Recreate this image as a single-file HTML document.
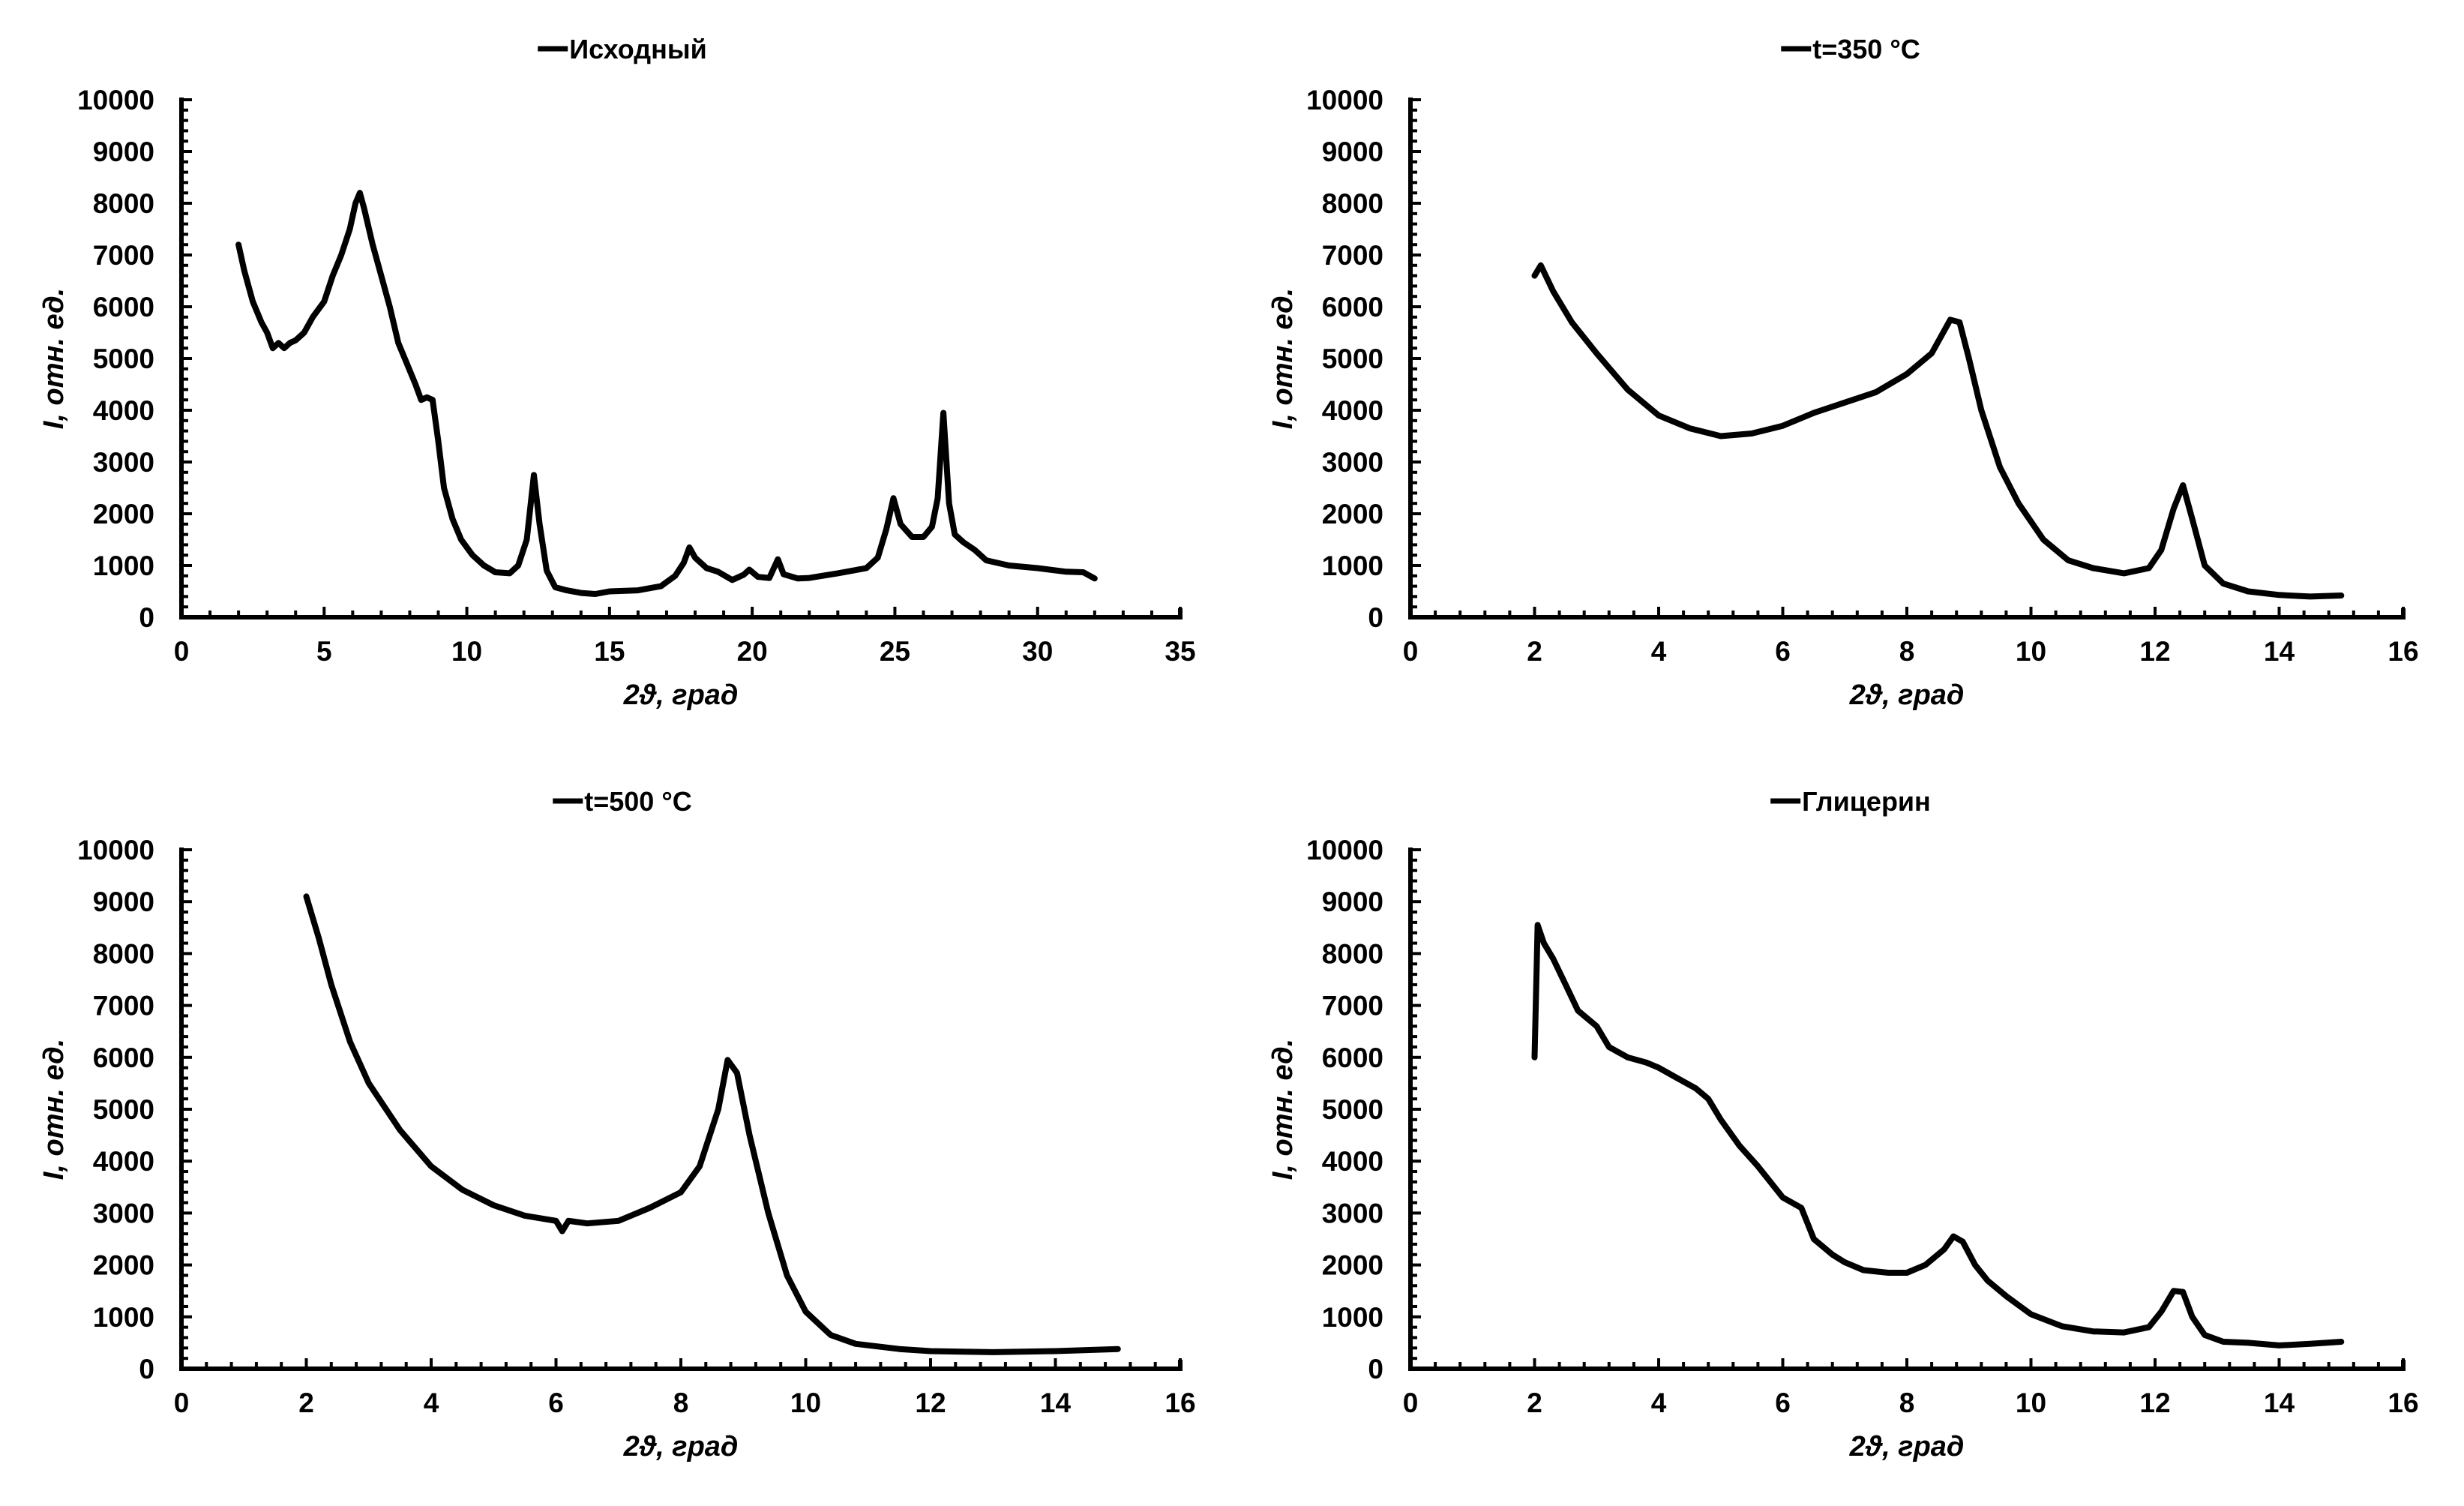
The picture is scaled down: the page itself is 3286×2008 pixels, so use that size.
<!DOCTYPE html>
<html><head><meta charset="utf-8"><style>
html,body{margin:0;padding:0;background:#fff;}
svg{display:block;}
text{font-family:"Liberation Sans Narrow","Liberation Sans",sans-serif;font-weight:bold;fill:#000;}
</style></head><body>
<svg id="fig" width="3286" height="2008" viewBox="0 0 3286 2008" xmlns="http://www.w3.org/2000/svg"></svg>
<script>
// Chart 1: Исходный
const x1 = [2.0,2.2,2.5,2.8,3.0,3.2,3.4,3.6,3.8,4.0,4.3,4.6,5.0,5.3,5.6,5.9,6.1,6.25,6.4,6.7,7.0,7.3,7.6,7.9,8.2,8.4,8.6,8.8,9.0,9.2,9.5,9.8,10.2,10.6,11.0,11.5,11.8,12.1,12.35,12.55,12.8,13.1,13.5,14.0,14.5,15,16,16.8,17.3,17.6,17.8,18.0,18.4,18.8,19.3,19.7,19.9,20.2,20.6,20.9,21.1,21.6,22,23,24,24.4,24.7,24.95,25.2,25.6,26.0,26.3,26.5,26.7,26.9,27.1,27.4,27.8,28.2,29,30,31,31.6,32];
const y1 = [7200,6700,6100,5700,5500,5200,5300,5200,5300,5350,5500,5800,6100,6600,7000,7500,8000,8200,7900,7200,6600,6000,5300,4900,4500,4200,4250,4200,3400,2500,1900,1500,1200,1000,870,850,1000,1500,2750,1800,900,580,520,470,450,500,520,600,800,1050,1350,1150,950,880,720,820,920,780,760,1120,830,750,760,850,950,1150,1700,2300,1800,1550,1550,1750,2300,3950,2200,1600,1450,1300,1100,1000,950,880,870,750];
// Chart 2: t=350 °C
const x2 = [2.0,2.1,2.3,2.6,3.0,3.5,4.0,4.5,5.0,5.5,6.0,6.5,7.0,7.5,8.0,8.4,8.7,8.85,9.0,9.2,9.5,9.8,10.2,10.6,11.0,11.5,11.9,12.1,12.3,12.45,12.6,12.8,13.1,13.5,14.0,14.5,15.0];
const y2 = [6600,6800,6300,5700,5100,4400,3900,3650,3500,3550,3700,3950,4150,4350,4700,5100,5750,5700,5000,4000,2900,2200,1500,1100,950,850,950,1300,2100,2550,1900,1000,650,500,430,400,420];
// Chart 3: t=500 °C
const x3 = [2.0,2.2,2.4,2.7,3.0,3.5,4.0,4.5,5.0,5.5,6.0,6.1,6.2,6.5,7.0,7.5,8.0,8.3,8.6,8.75,8.9,9.1,9.4,9.7,10.0,10.4,10.8,11.5,12,13,14,15];
const y3 = [9100,8300,7400,6300,5500,4600,3900,3450,3150,2950,2850,2650,2850,2800,2850,3100,3400,3900,5000,5950,5700,4500,3000,1800,1100,650,480,380,340,320,340,380];
// Chart 4: Глицерин
const x4 = [2.0,2.05,2.15,2.3,2.5,2.7,3.0,3.2,3.5,3.8,4.0,4.3,4.6,4.8,5.0,5.3,5.6,6.0,6.3,6.5,6.8,7.0,7.3,7.7,8.0,8.3,8.6,8.75,8.9,9.1,9.3,9.6,10.0,10.5,11,11.5,11.9,12.1,12.3,12.45,12.6,12.8,13.1,13.5,14,14.5,15];
const y4 = [6000,8550,8200,7900,7400,6900,6600,6200,6000,5900,5800,5600,5400,5200,4800,4300,3900,3300,3100,2500,2200,2050,1900,1850,1850,2000,2300,2550,2450,2000,1700,1400,1050,820,720,700,800,1100,1500,1480,1000,650,520,500,450,480,520];
const titles = ["Исходный","t=350 °C","t=500 °C","Глицерин"];
const yTicks = [0,1000,2000,3000,4000,5000,6000,7000,8000,9000,10000];
const xTicks1 = [0,5,10,15,20,25,30,35];
const xTicks2 = [0,2,4,6,8,10,12,14,16];

const NS="http://www.w3.org/2000/svg";
const svg=document.getElementById('fig');
function mk(tag,attrs,parent){const e=document.createElementNS(NS,tag);for(const k in attrs)e.setAttribute(k,attrs[k]);(parent||svg).appendChild(e);return e;}

const charts=[
 {xs:x1,ys:y1,L:242,R:1574,T:133,B:823,xMax:35,xt:xTicks1,minor:1,cx:830,ty:65},
 {xs:x2,ys:y2,L:1881,R:3205,T:133,B:823,xMax:16,xt:xTicks2,minor:0.4,cx:2468,ty:65},
 {xs:x3,ys:y3,L:242,R:1574,T:1133,B:1825,xMax:16,xt:xTicks2,minor:0.4,cx:830,ty:1068},
 {xs:x4,ys:y4,L:1881,R:3205,T:1133,B:1825,xMax:16,xt:xTicks2,minor:0.4,cx:2468,ty:1068}
];
charts.forEach((c,i)=>{
 const g=mk('g',{});
 
 
 const sx=v=>c.L+v/c.xMax*(c.R-c.L);
 const sy=v=>c.B-v/10000*(c.B-c.T);
 for(let v=0;v<=10000;v+=200){
  const major=v%1000===0;
  const t=mk('line',{x1:c.L,x2:c.L+(major?14:9),y1:sy(v),y2:sy(v),stroke:'#000','stroke-width':4},g);
  
  
 }
 const nMinor=Math.round(c.xMax/c.minor);
 for(let k=0;k<=nMinor;k++){
  const v=k*c.minor;
  const major=c.xt.some(m=>Math.abs(m-v)<1e-6);
  const t=mk('line',{x1:sx(v),x2:sx(v),y1:c.B,y2:c.B-(major?14:9),stroke:'#000','stroke-width':4},g);
  
  
 }
 const ax=mk('path',{d:`M${c.L},${c.T-3} L${c.L},${c.B} L${c.R},${c.B} L${c.R},${c.B-12}`,fill:'none',stroke:'#000','stroke-width':6},g);
 
 
 yTicks.forEach(v=>{
  const t=mk('text',{x:c.L-36,y:sy(v)+13,'text-anchor':'end','font-size':37},g);
  t.textContent=v;
  
  
 });
 c.xt.forEach(v=>{
  const t=mk('text',{x:sx(v),y:c.B+58,'text-anchor':'middle','font-size':37},g);
  t.textContent=v;
  
  
 });
 const xt=mk('text',{x:(c.L+c.R)/2,y:c.B+116,'text-anchor':'middle','font-size':38,'font-style':'italic'},g);
 xt.textContent='2ϑ, град';
 
 
 const yt=mk('text',{x:0,y:0,'text-anchor':'middle','font-size':38,'font-style':'italic',transform:`translate(${c.L-158},${(c.T+c.B)/2}) rotate(-90)`},g);
 yt.textContent='I, отн. ед.';
 
 
 const lg=mk('g',{},g);
 
 
 const lt=mk('text',{x:c.cx-78,y:c.ty+13,'font-size':36},lg);
 lt.textContent=titles[i];
 const w=lt.getComputedTextLength();
 const shift=(w+42)/2;
 lt.setAttribute('x',c.cx-shift+42);
 mk('line',{x1:c.cx-shift,x2:c.cx-shift+40,y1:c.ty,y2:c.ty,stroke:'#000','stroke-width':7},lg);
 let d='';
 c.xs.forEach((v,k)=>{d+=(k?'L':'M')+sx(v).toFixed(1)+','+sy(c.ys[k]).toFixed(1);});
 const p=mk('path',{d:d,fill:'none',stroke:'#000','stroke-width':8,'stroke-linejoin':'round','stroke-linecap':'round'},g);
 
 
});
</script>
</body></html>
